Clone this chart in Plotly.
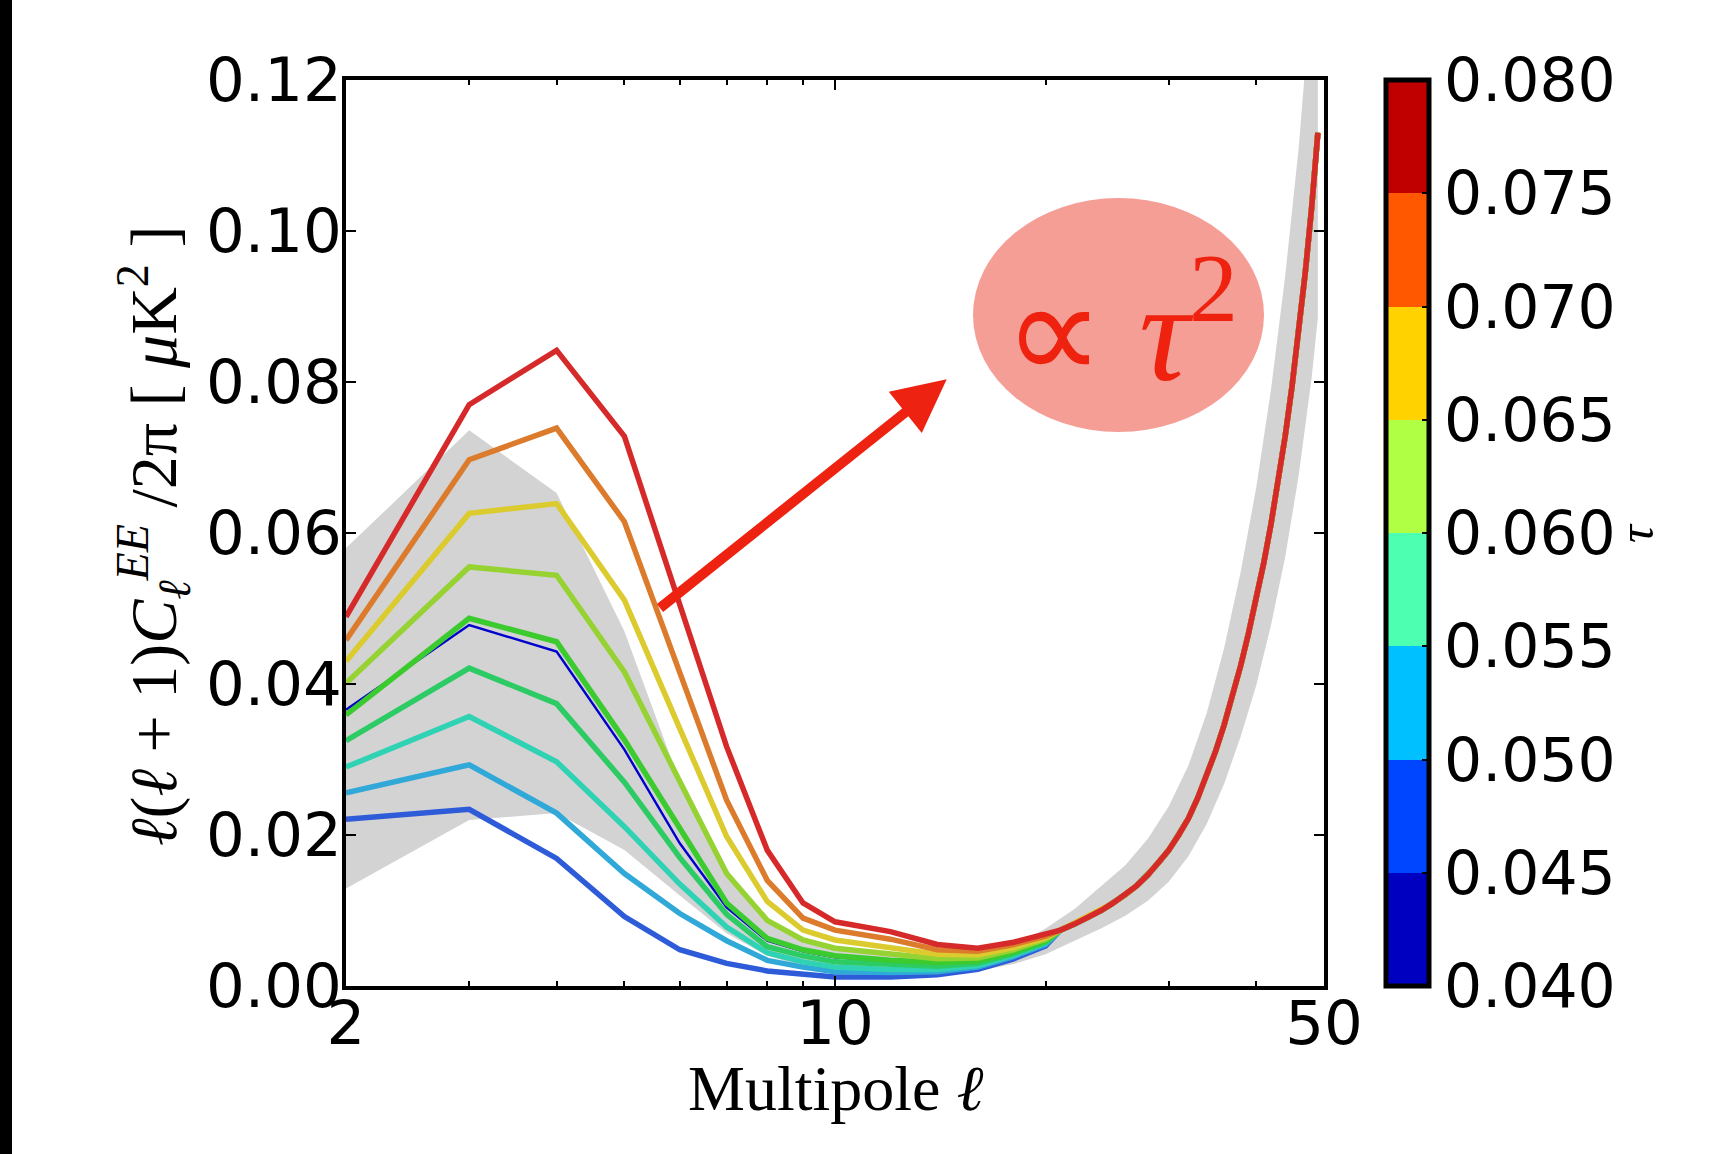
import math
import plotly.graph_objects as go

# ---------------- data ----------------
ELL_LOW = [2, 3, 4, 5, 6, 7, 8, 9, 10, 12, 14, 16, 18, 20]
ELL_TAIL = [21, 22, 23, 24, 25, 26, 27, 28, 29, 30, 31, 32, 33, 34, 35,
            36, 37, 38, 39, 40, 41, 42, 43, 44, 45, 46, 47, 48, 49]
# common high-ell tail (all curves coincide there)
TAIL_VALUES = [0.0074, 0.0082, 0.0091, 0.0100, 0.0110, 0.0121, 0.0133, 0.0147, 0.0163,
               0.0180, 0.0200, 0.0222, 0.0249, 0.0279, 0.0311, 0.0346, 0.0384, 0.0424,
               0.0467, 0.0512, 0.0560, 0.0612, 0.0668, 0.0728, 0.0794, 0.0865, 0.0944,
               0.1030, 0.1130]

TAU_VALUES = [0.040, 0.045, 0.050, 0.055, 0.060, 0.065, 0.070, 0.075, 0.080]
cl_tau040 = [0.0221, 0.0234, 0.0169, 0.0092, 0.0048, 0.0030, 0.0020, 0.0015, 0.0012, 0.0012, 0.0015, 0.0022, 0.0036, 0.0053]
cl_tau045 = [0.0256, 0.0293, 0.0229, 0.0149, 0.0096, 0.0060, 0.0034, 0.0025, 0.0019, 0.0018, 0.0019, 0.0025, 0.0039, 0.0055]
cl_tau050 = [0.0290, 0.0357, 0.0297, 0.0211, 0.0135, 0.0078, 0.0044, 0.0032, 0.0025, 0.0022, 0.0022, 0.0027, 0.0041, 0.0057]
cl_tau055 = [0.0325, 0.0421, 0.0374, 0.0270, 0.0170, 0.0095, 0.0052, 0.0040, 0.0032, 0.0028, 0.0026, 0.0030, 0.0043, 0.0058]
cl_tau060 = [0.0359, 0.0487, 0.0456, 0.0326, 0.0209, 0.0110, 0.0063, 0.0048, 0.0040, 0.0034, 0.0031, 0.0033, 0.0045, 0.0060]
cl_tau065 = [0.0401, 0.0555, 0.0544, 0.0416, 0.0271, 0.0149, 0.0087, 0.0061, 0.0050, 0.0042, 0.0036, 0.0037, 0.0048, 0.0062]
cl_tau070 = [0.0430, 0.0626, 0.0639, 0.0511, 0.0341, 0.0198, 0.0112, 0.0074, 0.0061, 0.0051, 0.0042, 0.0041, 0.0051, 0.0064]
cl_tau075 = [0.0458, 0.0697, 0.0739, 0.0615, 0.0415, 0.0246, 0.0140, 0.0090, 0.0074, 0.0062, 0.0048, 0.0046, 0.0055, 0.0066]
cl_tau080 = [0.0489, 0.0770, 0.0842, 0.0728, 0.0505, 0.0317, 0.0180, 0.0110, 0.0085, 0.0072, 0.0055, 0.0050, 0.0058, 0.0068]
# thin dark-blue reference curve
cl_reference = [0.0366, 0.0478, 0.0443, 0.0313, 0.0189, 0.0104, 0.0060, 0.0046, 0.0038, 0.0033, 0.0030, 0.0032, 0.0044, 0.0059]

# grey uncertainty band
BAND_ELL = [2, 3, 4, 5, 6, 7, 8, 9, 10, 12, 14, 16, 18, 20, 22, 24, 26, 28, 30,
            32, 34, 36, 38, 40, 42, 44, 46, 48, 49]
BAND_UPPER = [0.0580, 0.0736, 0.0653, 0.0470, 0.0270, 0.0155, 0.0085, 0.0060, 0.0050,
              0.0042, 0.0038, 0.0041, 0.0053, 0.0076, 0.0102, 0.0132, 0.0160, 0.0195,
              0.0238, 0.0292, 0.0362, 0.0448, 0.0548, 0.0660, 0.0790, 0.0940, 0.1110,
              0.1320, 0.1460]
BAND_LOWER = [0.0129, 0.0220, 0.0229, 0.0180, 0.0120, 0.0070, 0.0040, 0.0026, 0.0018,
              0.0014, 0.0015, 0.0020, 0.0029, 0.0042, 0.0060, 0.0076, 0.0093, 0.0113,
              0.0138, 0.0172, 0.0215, 0.0268, 0.0330, 0.0398, 0.0478, 0.0568, 0.0676,
              0.0805, 0.0885]

X_TICKS = [2, 10, 50]
X_MINOR_TICKS = [3, 4, 5, 6, 7, 8, 9, 20, 30, 40]
Y_TICKS = [0.00, 0.02, 0.04, 0.06, 0.08, 0.10, 0.12]
CBAR_TICKS = [0.040, 0.045, 0.050, 0.055, 0.060, 0.065, 0.070, 0.075, 0.080]

# ---------------- styles ----------------
LINE_COLORS = ["#2E5BD8", "#30A8D8", "#2FD3B4", "#2CCB64", "#3CCB2E",
               "#96D232", "#DCCB2E", "#DB7B2B", "#D62A2A"]
JET8 = ["#0000C0", "#0045FF", "#00C0FF", "#4DFFB0", "#B0FF45", "#FFD200", "#FF5800", "#C00000"]

W, H = 1716, 1154
L, R, T, B = 346, 1324, 80, 986


def pp(px, py):
    """pixel -> paper coordinates"""
    return (px - L) / (R - L), (B - py) / (B - T)


fig = go.Figure()

# grey band
fig.add_trace(go.Scatter(
    x=BAND_ELL + BAND_ELL[::-1], y=BAND_UPPER + BAND_LOWER[::-1],
    fill="toself", fillcolor="#D3D3D3", line=dict(width=0), mode="lines",
    hoverinfo="skip", showlegend=False))

# thin reference curve
fig.add_trace(go.Scatter(
    x=ELL_LOW + ELL_TAIL, y=cl_reference + TAIL_VALUES, mode="lines",
    line=dict(color="#0000CC", width=2.4), showlegend=False))

series = [cl_tau040, cl_tau045, cl_tau050, cl_tau055, cl_tau060,
          cl_tau065, cl_tau070, cl_tau075, cl_tau080]
for tau, vals, col in zip(TAU_VALUES, series, LINE_COLORS):
    fig.add_trace(go.Scatter(
        x=ELL_LOW + ELL_TAIL, y=vals + TAIL_VALUES, mode="lines",
        line=dict(color=col, width=5.5), name=f"tau={tau}", showlegend=False))

# discrete jet colour bar
n = len(JET8)
cscale = []
for i, c in enumerate(JET8):
    cscale.append([i / n, c])
    cscale.append([(i + 1) / n, c])
fig.add_trace(go.Scatter(
    x=[None], y=[None], mode="markers", showlegend=False,
    marker=dict(color=[TAU_VALUES[0]], colorscale=cscale, cmin=0.04, cmax=0.08,
                showscale=True,
                colorbar=dict(
                    x=pp(1386, 0)[0], xanchor="left", xpad=0,
                    y=0.5, yanchor="middle", len=1, lenmode="fraction", ypad=0,
                    thickness=43, outlinewidth=5, outlinecolor="black",
                    tickvals=CBAR_TICKS, ticktext=[f"{v:.3f}" for v in CBAR_TICKS],
                    ticks="inside", ticklen=9, tickcolor="black", tickwidth=1.5,
                    tickfont=dict(family="DejaVu Sans", size=60, color="black")))))

axis_common = dict(showline=True, linewidth=4, linecolor="black", mirror="allticks",
                   showgrid=False, zeroline=False, ticks="inside", ticklen=10,
                   tickwidth=1.5, tickcolor="black",
                   tickfont=dict(family="DejaVu Sans", size=61, color="black"))

fig.update_xaxes(type="log", range=[math.log10(2), math.log10(50)],
                 tickmode="array", tickvals=X_TICKS, ticktext=[str(v) for v in X_TICKS],
                 ticklabelstandoff=-19,
                 minor=dict(tickmode="array", tickvals=X_MINOR_TICKS, ticks="inside",
                            ticklen=5, tickwidth=1.5, tickcolor="black", showgrid=False),
                 **axis_common)
fig.update_yaxes(range=[0, 0.12], tickmode="array", tickvals=Y_TICKS,
                 ticklabelstandoff=-12,
                 ticktext=[f"{v:.2f}" for v in Y_TICKS], **axis_common)

shapes = []
# black strip on the left edge of the picture
shapes.append(dict(type="rect", xref="paper", yref="paper",
                   x0=pp(0, 0)[0], x1=pp(12, 0)[0], y0=pp(0, H)[1], y1=pp(0, 0)[1],
                   fillcolor="black", line=dict(width=0), layer="above"))
# salmon ellipse
ex0, ey0 = pp(973, 432)
ex1, ey1 = pp(1264, 198)
shapes.append(dict(type="circle", xref="paper", yref="paper", x0=ex0, y0=ey0, x1=ex1, y1=ey1,
                   fillcolor="#F59E96", line=dict(width=0), layer="above"))
# arrow
tail = (660, 608)
tip = (946.7, 379.3)
dx, dy = tip[0] - tail[0], tip[1] - tail[1]
ln = math.hypot(dx, dy)
ux, uy = dx / ln, dy / ln
hl, hw = 53, 26.5
base = (tip[0] - hl * ux, tip[1] - hl * uy)
c1 = (base[0] + hw * (-uy), base[1] + hw * ux)
c2 = (base[0] - hw * (-uy), base[1] - hw * ux)
shaft_end = (base[0] + 4 * ux, base[1] + 4 * uy)
s0 = pp(*tail)
s1 = pp(*shaft_end)
shapes.append(dict(type="line", xref="paper", yref="paper", x0=s0[0], y0=s0[1], x1=s1[0], y1=s1[1],
                   line=dict(color="#EE2211", width=10), layer="above"))
p_tip, p_c1, p_c2 = pp(*tip), pp(*c1), pp(*c2)
shapes.append(dict(type="path", xref="paper", yref="paper",
                   path=f"M {p_tip[0]},{p_tip[1]} L {p_c1[0]},{p_c1[1]} L {p_c2[0]},{p_c2[1]} Z",
                   fillcolor="#EE2211", line=dict(width=0), layer="above"))

annotations = []
tx, ty = pp(1121, 322)
annotations.append(dict(xref="paper", yref="paper", x=tx, y=ty, xanchor="center", yanchor="middle",
                        showarrow=False, text="∝ <i>τ</i><sup>2</sup>",
                        font=dict(family="Liberation Serif", size=140, color="#EE220E")))
xl = pp(835, 1088)
annotations.append(dict(xref="paper", yref="paper", x=xl[0], y=xl[1], xanchor="center", yanchor="middle",
                        showarrow=False, text="Multipole <i>ℓ</i>",
                        font=dict(family="Liberation Serif", size=64, color="black")))
yl = pp(153, 536)
annotations.append(dict(xref="paper", yref="paper", x=yl[0], y=yl[1], xanchor="center", yanchor="middle",
                        showarrow=False, textangle=-90,
                        text="<i>ℓ</i>(<i>ℓ</i> + 1)<i>C</i><sub><i>ℓ</i></sub><sup><i>EE</i></sup> /2π [ <i>μ</i>K<sup>2</sup> ]",
                        font=dict(family="Liberation Serif", size=66, color="black")))
tl = pp(1636, 533)
annotations.append(dict(xref="paper", yref="paper", x=tl[0], y=tl[1], xanchor="center", yanchor="middle",
                        showarrow=False, textangle=-90, text="<i>τ</i>",
                        font=dict(family="Liberation Serif", size=50, color="black")))

fig.update_layout(width=W, height=H, autosize=False,
                  margin=dict(l=L, r=W - R, t=T, b=H - B, pad=0),
                  paper_bgcolor="white", plot_bgcolor="white",
                  showlegend=False, shapes=shapes, annotations=annotations)

fig.write_html("out.html")
